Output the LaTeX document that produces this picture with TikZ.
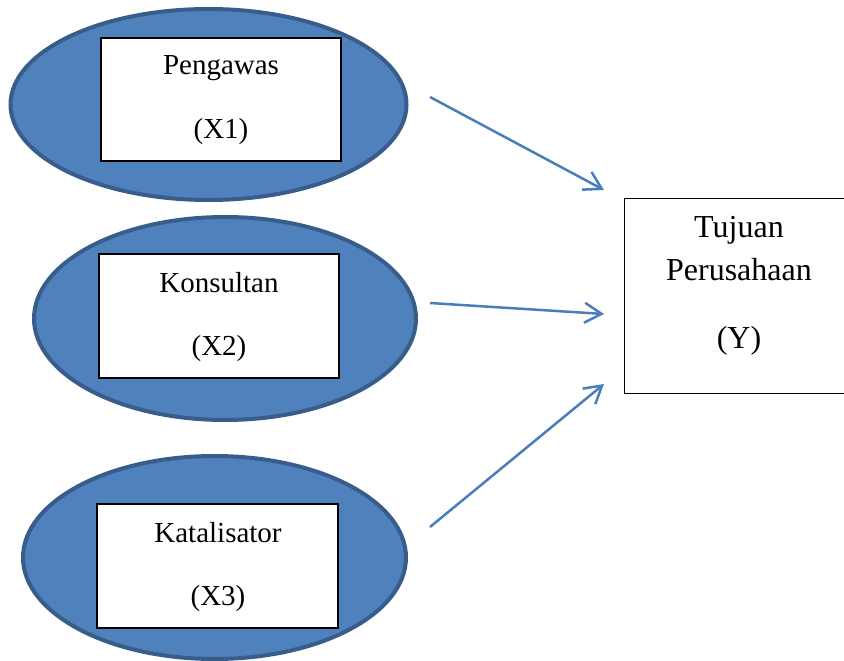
\documentclass[tikz,border=0pt]{standalone}
\usepackage{fontspec}
\setmainfont{Liberation Serif}
\usetikzlibrary{shapes.geometric,arrows.meta}
\definecolor{ellfill}{RGB}{79,129,189}
\definecolor{elldraw}{RGB}{56,93,138}
\definecolor{arr}{RGB}{74,126,187}
\tikzset{
  oval/.style={ellipse, fill=ellfill, draw=elldraw, line width=4pt, inner sep=0pt},
  inbox/.style={rectangle, fill=white, draw=black, line width=1.2pt, inner sep=0pt},
  lbl/.style={font=\fontsize{29}{34}\selectfont, inner sep=0pt},
  ylbl/.style={font=\fontsize{32}{38}\selectfont, inner sep=0pt},
  conn/.style={draw=arr, line width=2.5pt, -{Straight Barb[length=17pt,width=20pt,line width=2.5pt]}}
}
\begin{document}
\begin{tikzpicture}[x=1pt,y=-1pt]
\useasboundingbox (0,0) rectangle (844,661);
% ellipses
\node[oval, minimum width=396pt, minimum height=191pt] (e1) at (208.5,104.5) {};
\node[oval, minimum width=382pt, minimum height=203pt] (e2) at (225,318.5) {};
\node[oval, minimum width=383pt, minimum height=203pt] (e3) at (214.5,557.5) {};
% inner boxes
\node[inbox, minimum width=240pt, minimum height=123pt] (b1) at (221,99.5) {};
\node[inbox, minimum width=240pt, minimum height=124pt] (b2) at (219,316) {};
\node[inbox, minimum width=241pt, minimum height=124pt] (b3) at (217.5,566) {};
% labels
\node[lbl] (t1a) at (221,68) {Pengawas};
\node[lbl] (t1b) at (221,132) {(X1)};
\node[lbl] (t2a) at (219,283) {Konsultan};
\node[lbl] (t2b) at (219,349) {(X2)};
\node[lbl] (t3a) at (218,533) {Katalisator};
\node[lbl] (t3b) at (218,599) {(X3)};
% Y box
\node[inbox, fill=none, line width=1pt, minimum width=224pt, minimum height=195pt] (yb) at (736,295.5) {};
\node[ylbl] (ya) at (739,230) {Tujuan};
\node[ylbl] (yb2) at (739,270) {Perusahaan};
\node[ylbl] (yc) at (739,341) {(Y)};
% arrow endpoints
\coordinate (s1) at (430,97);
\coordinate (d1) at (604,190);
\coordinate (s2) at (430,303);
\coordinate (d2) at (604,314);
\coordinate (s3) at (430,527);
\coordinate (d3) at (604,384);
\draw[conn] (s1) -- (d1);
\draw[conn] (s2) -- (d2);
\draw[conn] (s3) -- (d3);
\end{tikzpicture}
\end{document}
